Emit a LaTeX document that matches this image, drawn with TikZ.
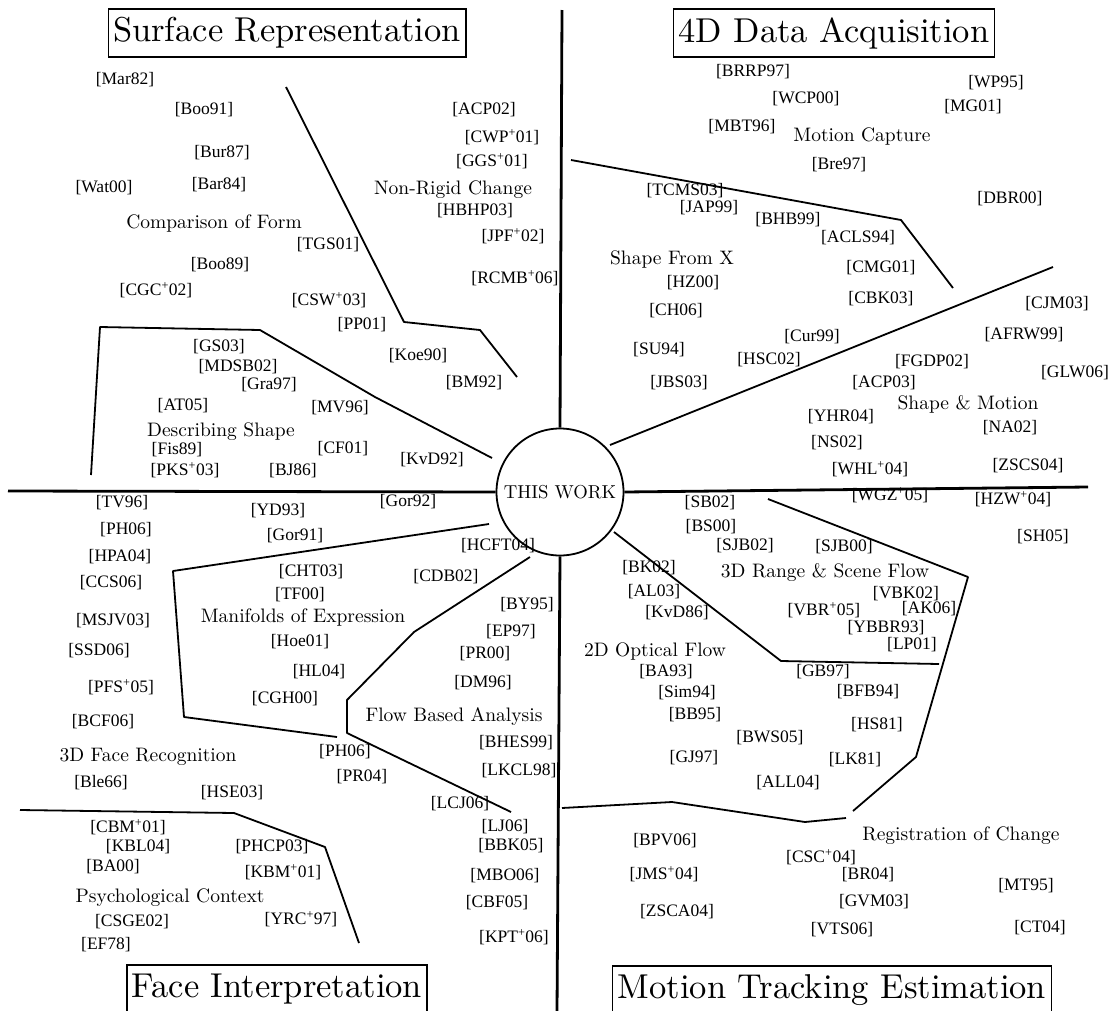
\documentclass[tikz,border=0pt]{standalone}
\usepackage{fontspec}
\newfontfamily\citefont{Liberation Serif}
\newfontfamily\topicfont[Extension=.otf]{lmroman10-regular}
\newcommand{\plus}{\textsuperscript{+}}
\tikzstyle{ref} = [inner sep=0pt, font=\citefont\fontsize{17.5}{20}\selectfont]
\tikzstyle{topic} = [inner sep=0pt, font=\topicfont\fontsize{19.5}{22}\selectfont]
\tikzstyle{area} = [rectangle, draw=black, line width=1.2pt, inner xsep=5pt, minimum height=48pt, font=\topicfont\fontsize{34.5}{40}\selectfont]
\tikzstyle{hub} = [circle, draw=black, line width=1.8pt, inner sep=0pt, minimum size=127pt, font=\topicfont\fontsize{18.7}{22}\selectfont]
\tikzstyle{axis} = [line width=2.8pt]
\tikzstyle{border} = [line width=1.8pt, line join=round]

\begin{document}
\begin{tikzpicture}[x=1pt, y=-1pt]
	\useasboundingbox (0,0) rectangle (1117,1010);

	\node (surf) [area] at (287,33) {Surface Representation};
	\node (acq) [area] at (834,33) {4D Data Acquisition};
	\node (face) [area] at (277,989) {Face Interpretation};
	\node (track) [area] at (832,990) {Motion Tracking Estimation};

	\node (mar82) [ref] at (125,80) {[Mar82]};
	\node (boo91) [ref] at (204,110) {[Boo91]};
	\node (bur87) [ref] at (222,153) {[Bur87]};
	\node (wat00) [ref] at (104,188) {[Wat00]};
	\node (bar84) [ref] at (219,185) {[Bar84]};
	\node (compare) [topic] at (214,224) {Comparison of Form};
	\node (tgs01) [ref] at (328,245) {[TGS01]};
	\node (boo89) [ref] at (220,265) {[Boo89]};
	\node (cgc02) [ref] at (156,290) {[CGC\plus02]};
	\node (csw03) [ref] at (329,300) {[CSW\plus03]};
	\node (pp01) [ref] at (362,325) {[PP01]};
	\node (koe90) [ref] at (418,356) {[Koe90]};
	\node (bm92) [ref] at (474,383) {[BM92]};
	\node (acp02) [ref] at (484,110) {[ACP02]};
	\node (cwp01) [ref] at (502,137) {[CWP\plus01]};
	\node (ggs01) [ref] at (492,161) {[GGS\plus01]};
	\node (nonrigid) [topic] at (453,190) {Non-Rigid Change};
	\node (hbhp03) [ref] at (475,211) {[HBHP03]};
	\node (jpf02) [ref] at (513,236) {[JPF\plus02]};
	\node (rcmb06) [ref] at (515,278) {[RCMB\plus06]};
	\node (gs03) [ref] at (219,347) {[GS03]};
	\node (mdsb02) [ref] at (238,367) {[MDSB02]};
	\node (gra97) [ref] at (269,385) {[Gra97]};
	\node (at05) [ref] at (183,406) {[AT05]};
	\node (mv96) [ref] at (340,408) {[MV96]};
	\node (describe) [topic] at (221,432) {Describing Shape};
	\node (fis89) [ref] at (177,450) {[Fis89]};
	\node (cf01) [ref] at (343,449) {[CF01]};
	\node (kvd92) [ref] at (432,460) {[KvD92]};
	\node (pks03) [ref] at (185,470) {[PKS\plus03]};
	\node (bj86) [ref] at (293,471) {[BJ86]};

	\node (brrp97) [ref] at (753,72) {[BRRP97]};
	\node (wp95) [ref] at (996,83) {[WP95]};
	\node (wcp00) [ref] at (806,99) {[WCP00]};
	\node (mg01) [ref] at (973,107) {[MG01]};
	\node (mbt96) [ref] at (742,127) {[MBT96]};
	\node (mocap) [topic] at (862,137) {Motion Capture};
	\node (bre97) [ref] at (839,165) {[Bre97]};
	\node (dbr00) [ref] at (1010,199) {[DBR00]};
	\node (tcms03) [ref] at (685,191) {[TCMS03]};
	\node (jap99) [ref] at (709,208) {[JAP99]};
	\node (bhb99) [ref] at (788,220) {[BHB99]};
	\node (acls94) [ref] at (858,238) {[ACLS94]};
	\node (sfx) [topic] at (672,260) {Shape From X};
	\node (cmg01) [ref] at (881,268) {[CMG01]};
	\node (hz00) [ref] at (693,283) {[HZ00]};
	\node (cbk03) [ref] at (881,299) {[CBK03]};
	\node (cjm03) [ref] at (1057,304) {[CJM03]};
	\node (ch06) [ref] at (676,311) {[CH06]};
	\node (afrw99) [ref] at (1024,335) {[AFRW99]};
	\node (cur99) [ref] at (812,337) {[Cur99]};
	\node (su94) [ref] at (659,350) {[SU94]};
	\node (hsc02) [ref] at (769,360) {[HSC02]};
	\node (fgdp02) [ref] at (932,362) {[FGDP02]};
	\node (glw06) [ref] at (1075,373) {[GLW06]};
	\node (jbs03) [ref] at (679,383) {[JBS03]};
	\node (acp03) [ref] at (884,383) {[ACP03]};
	\node (shapemotion) [topic] at (968,404) {Shape \& Motion};
	\node (yhr04) [ref] at (841,417) {[YHR04]};
	\node (na02) [ref] at (1010,428) {[NA02]};
	\node (ns02) [ref] at (837,443) {[NS02]};
	\node (whl04) [ref] at (870,469) {[WHL\plus04]};
	\node (zscs04) [ref] at (1028,466) {[ZSCS04]};

	\node (tv96) [ref] at (122,503) {[TV96]};
	\node (yd93) [ref] at (278,511) {[YD93]};
	\node (gor92) [ref] at (408,502) {[Gor92]};
	\node (ph06a) [ref] at (126,530) {[PH06]};
	\node (gor91) [ref] at (295,536) {[Gor91]};
	\node (hpa04) [ref] at (120,557) {[HPA04]};
	\node (hcft04) [ref] at (498,546) {[HCFT04]};
	\node (cht03) [ref] at (311,572) {[CHT03]};
	\node (cdb02) [ref] at (446,577) {[CDB02]};
	\node (ccs06) [ref] at (111,583) {[CCS06]};
	\node (tf00) [ref] at (300,595) {[TF00]};
	\node (by95) [ref] at (527,605) {[BY95]};
	\node (manifolds) [topic] at (303,618) {Manifolds of Expression};
	\node (msjv03) [ref] at (113,621) {[MSJV03]};
	\node (ep97) [ref] at (511,632) {[EP97]};
	\node (hoe01) [ref] at (300,642) {[Hoe01]};
	\node (ssd06) [ref] at (99,651) {[SSD06]};
	\node (pr00) [ref] at (485,654) {[PR00]};
	\node (hl04) [ref] at (319,672) {[HL04]};
	\node (dm96) [ref] at (483,683) {[DM96]};
	\node (pfs05) [ref] at (121,687) {[PFS\plus05]};
	\node (cgh00) [ref] at (285,699) {[CGH00]};
	\node (flowbased) [topic] at (454,717) {Flow Based Analysis};
	\node (bcf06) [ref] at (103,722) {[BCF06]};
	\node (bhes99) [ref] at (516,743) {[BHES99]};
	\node (ph06b) [ref] at (345,752) {[PH06]};
	\node (facerec) [topic] at (148,757) {3D Face Recognition};
	\node (lkcl98) [ref] at (519,771) {[LKCL98]};
	\node (pr04) [ref] at (362,777) {[PR04]};
	\node (ble66) [ref] at (101,783) {[Ble66]};
	\node (hse03) [ref] at (232,793) {[HSE03]};
	\node (lcj06) [ref] at (460,804) {[LCJ06]};
	\node (lj06) [ref] at (505,827) {[LJ06]};
	\node (cbm01) [ref] at (128,827) {[CBM\plus01]};
	\node (bbk05) [ref] at (511,846) {[BBK05]};
	\node (kbl04) [ref] at (138,847) {[KBL04]};
	\node (phcp03) [ref] at (272,847) {[PHCP03]};
	\node (ba00) [ref] at (113,867) {[BA00]};
	\node (kbm01) [ref] at (283,872) {[KBM\plus01]};
	\node (mbo06) [ref] at (505,876) {[MBO06]};
	\node (psych) [topic] at (170,898) {Psychological Context};
	\node (cbf05) [ref] at (497,903) {[CBF05]};
	\node (csge02) [ref] at (132,922) {[CSGE02]};
	\node (yrc97) [ref] at (301,919) {[YRC\plus97]};
	\node (ef78) [ref] at (106,945) {[EF78]};
	\node (kpt06) [ref] at (514,937) {[KPT\plus06]};

	\node (sb02) [ref] at (710,503) {[SB02]};
	\node (wgz05) [ref] at (890,495) {[WGZ\plus05]};
	\node (hzw04) [ref] at (1013,499) {[HZW\plus04]};
	\node (bs00) [ref] at (711,527) {[BS00]};
	\node (sh05) [ref] at (1043,537) {[SH05]};
	\node (sjb02) [ref] at (745,546) {[SJB02]};
	\node (sjb00) [ref] at (844,547) {[SJB00]};
	\node (bk02) [ref] at (649,568) {[BK02]};
	\node (rangeflow) [topic] at (825,573) {3D Range \& Scene Flow};
	\node (al03) [ref] at (654,592) {[AL03]};
	\node (vbk02) [ref] at (906,594) {[VBK02]};
	\node (ak06) [ref] at (929,609) {[AK06]};
	\node (vbr05) [ref] at (824,610) {[VBR\plus05]};
	\node (kvd86) [ref] at (677,613) {[KvD86]};
	\node (ybbr93) [ref] at (886,628) {[YBBR93]};
	\node (lp01) [ref] at (912,645) {[LP01]};
	\node (optflow) [topic] at (655,652) {2D Optical Flow};
	\node (ba93) [ref] at (666,672) {[BA93]};
	\node (gb97) [ref] at (823,672) {[GB97]};
	\node (sim94) [ref] at (687,693) {[Sim94]};
	\node (bfb94) [ref] at (868,692) {[BFB94]};
	\node (bb95) [ref] at (695,715) {[BB95]};
	\node (hs81) [ref] at (877,725) {[HS81]};
	\node (bws05) [ref] at (770,738) {[BWS05]};
	\node (gj97) [ref] at (694,758) {[GJ97]};
	\node (lk81) [ref] at (855,760) {[LK81]};
	\node (all04) [ref] at (788,783) {[ALL04]};
	\node (regchange) [topic] at (961,836) {Registration of Change};
	\node (bpv06) [ref] at (665,841) {[BPV06]};
	\node (csc04) [ref] at (821,857) {[CSC\plus04]};
	\node (jms04) [ref] at (664,874) {[JMS\plus04]};
	\node (br04) [ref] at (868,875) {[BR04]};
	\node (mt95) [ref] at (1026,886) {[MT95]};
	\node (gvm03) [ref] at (874,902) {[GVM03]};
	\node (zsca04) [ref] at (677,912) {[ZSCA04]};
	\node (vts06) [ref] at (842,930) {[VTS06]};
	\node (ct04) [ref] at (1040,928) {[CT04]};

	\node (tw) [hub] at (560,492) {THIS WORK};

	\coordinate (topend) at (562,10);
	\coordinate (bottomend) at (557,1012);
	\coordinate (leftend) at (8,491);
	\coordinate (rightend) at (1088,487);

	\draw [axis] (tw.north) -- (topend);
	\draw [axis] (tw.south) -- (bottomend);
	\draw [axis] (tw.west) -- (leftend);
	\draw [axis] (tw.east) -- (rightend);

	\draw [border] (286,87) -- (404,322) -- (480,330) -- (517,377);
	\draw [border] (91,475) -- (100,327) -- (260,330) -- (375,397) -- (492,458);
	\draw [border] (571,160) -- (901,220) -- (953,288);
	\draw [border] (610,445) -- (1053,267);
	\draw [border] (489,524) -- (173,571) -- (184,717) -- (337,737);
	\draw [border] (530,557) -- (414,632) -- (347,700) -- (347,733) -- (511,812);
	\draw [border] (614,532) -- (781,661) -- (939,664);
	\draw [border] (768,499) -- (968,577) -- (916,757) -- (853,811);
	\draw [border] (562,808) -- (672,802) -- (805,822) -- (846,818);
	\draw [border] (20,810) -- (234,813) -- (325,847) -- (359,943);

\end{tikzpicture}
\end{document}
